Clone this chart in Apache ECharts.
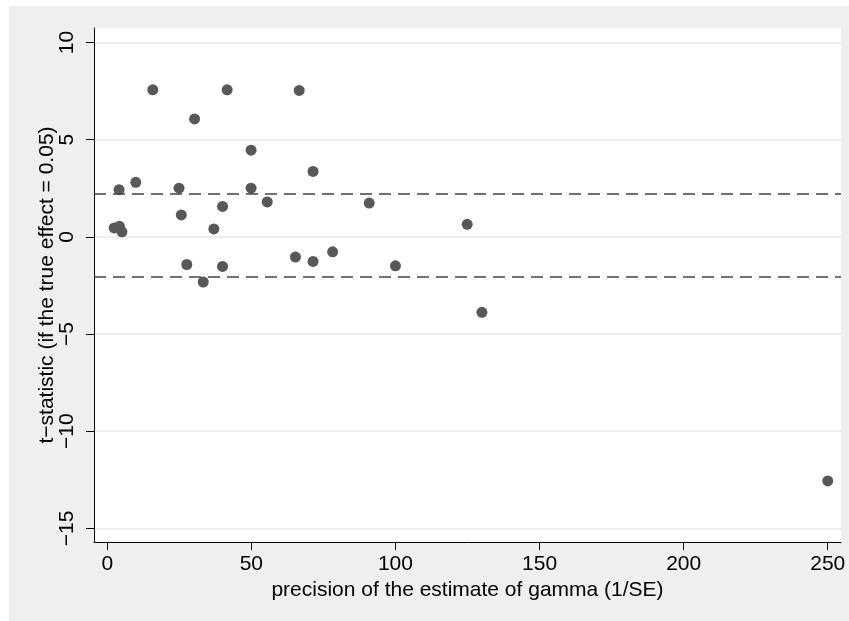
<!DOCTYPE html>
<html>
<head>
<meta charset="utf-8">
<script src="https://cdn.jsdelivr.net/npm/echarts@6/dist/echarts.min.js"></script>
<style>
  html, body { margin: 0; padding: 0; background: #ffffff; }
  #c { position: absolute; left: 9px; top: 6px; width: 840px; height: 615px; }
</style>
</head>
<body>
<div id="c"></div>
<script>
// precision (1/SE)
const precision = [15.8, 41.6, 66.6, 30.3, 49.9, 71.4, 9.9, 4.1, 24.9, 49.9, 55.5, 90.9, 40.0, 25.7, 124.9, 37.0, 2.4, 4.2, 5.1, 78.2, 65.3, 71.4, 27.6, 40.0, 100.0, 33.3, 130.0, 250.0];
// t-statistic (if the true effect = 0.05)
const tStat = [7.57, 7.57, 7.54, 6.07, 4.46, 3.37, 2.81, 2.43, 2.51, 2.51, 1.80, 1.74, 1.57, 1.13, 0.65, 0.41, 0.46, 0.55, 0.26, -0.77, -1.04, -1.26, -1.42, -1.52, -1.49, -2.32, -3.88, -12.56];
// critical lines
const criticalLines = [2.24, -2.07];
const xTicks = [0, 50, 100, 150, 200, 250];
const yTicks = [-15, -10, -5, 0, 5, 10];
const xTitle = 'precision of the estimate of gamma (1/SE)';
const yTitle = 't\u2212statistic (if the true effect = 0.05)';

const fmt = v => (v < 0 ? '\u2212' + Math.abs(v) : String(v));
const font = '"Liberation Sans", Arial, Helvetica, sans-serif';

const chart = echarts.init(document.getElementById('c'));
chart.setOption({
  backgroundColor: '#efefef',
  animation: false,
  grid: { left: 85, right: 8, top: 22, bottom: 79, show: true, backgroundColor: '#ffffff', borderWidth: 0 },
  xAxis: {
    type: 'value', min: -4.6, max: 254.6,
    name: xTitle, nameLocation: 'middle', nameGap: 34,
    nameTextStyle: { fontFamily: font, fontSize: 21, color: '#000' },
    axisLine: { show: true, onZero: false, lineStyle: { color: '#000', width: 1 } },
    axisTick: { show: true, length: 8, customValues: xTicks, lineStyle: { color: '#000' } },
    axisLabel: { customValues: xTicks, formatter: fmt, margin: 12, fontFamily: font, fontSize: 21, color: '#000' },
    splitLine: { show: false }
  },
  yAxis: {
    type: 'value', min: -15.7, max: 10.75,
    name: yTitle, nameLocation: 'middle', nameGap: 36, nameRotate: 90, nameMoveOverlap: false,
    nameTextStyle: { fontFamily: font, fontSize: 21, color: '#000' },
    axisLine: { show: true, onZero: false, lineStyle: { color: '#000', width: 1 } },
    axisTick: { show: true, length: 8, customValues: yTicks, lineStyle: { color: '#000' } },
    axisLabel: { customValues: yTicks, formatter: fmt, rotate: 90, margin: 16, fontFamily: font, fontSize: 21, color: '#000' },
    splitLine: { show: true, lineStyle: { color: '#e6e6e6', width: 1.5 } }
  },
  series: [
    {
      type: 'scatter',
      data: precision.map((x, i) => [x, tStat[i]]),
      symbol: 'circle', symbolSize: 11,
      itemStyle: { color: '#585858', opacity: 1 },
      markLine: {
        silent: true, symbol: 'none', label: { show: false },
        lineStyle: { color: '#444444', width: 1.5, type: [12, 7] },
        data: criticalLines.map(v => ({ yAxis: v }))
      }
    }
  ]
});
</script>
</body>
</html>
